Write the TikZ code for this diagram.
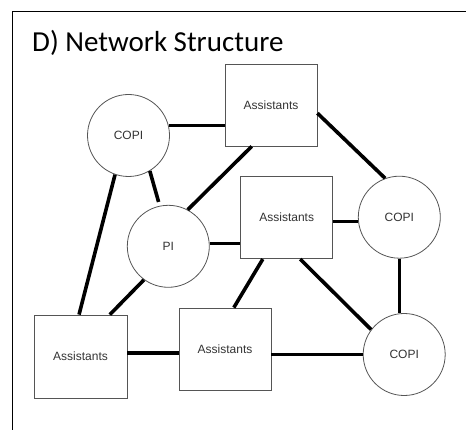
\documentclass[tikz,border=0pt]{standalone}
\usepackage{fontspec}
\setmainfont{Liberation Sans}
\newfontfamily\titlefont{Carlito}
\usetikzlibrary{calc}
\definecolor{nodegray}{HTML}{555555}
\definecolor{txtgray}{HTML}{333333}
\begin{document}
\begin{tikzpicture}[x=1pt,y=-1pt,
  box/.style={draw=nodegray, line width=0.8pt, rectangle, minimum width=92pt, minimum height=82pt, inner sep=0pt, font=\fontsize{12}{14}\selectfont, text=txtgray},
  rnd/.style={draw=nodegray, line width=0.8pt, circle, minimum size=82pt, inner sep=0pt, font=\fontsize{12}{14}\selectfont, text=txtgray},
  link/.style={line width=3.6pt, black}]
\useasboundingbox (0,0) rectangle (466,430);
\draw[line width=1.5pt] (12.5,430) -- (12.5,11.5) -- (466,11.5);
\node[anchor=base west, inner sep=0pt, font=\titlefont\fontsize{29}{34}\selectfont] (title) at (32,52) {D) Network Structure};

\node[rnd] (c1) at (128.5,135.5) {COPI};
\node[box] (a1) at (271,105) {Assistants};
\node[rnd] (pi) at (168.3,246.3) {PI};
\node[box] (m) at (286.7,217.7) {Assistants};
\node[rnd] (cr) at (399.3,217.2) {COPI};
\node[box, minimum width=93pt, minimum height=83pt] (b1) at (80.5,356.5) {Assistants};
\node[box] (b2) at (225,349) {Assistants};
\node[rnd] (cb) at (404.2,354.5) {COPI};

\draw[link] (c1.14) -- (c1.14 -| a1.west);
\draw[link] (a1.-10) -- (cr.110);
\draw[link] (a1.245) -- (pi.62);
\draw[link, shorten >=4pt] (c1.-59) -- (pi.102);
\draw[link] (c1.251) -- (b1.92);
\draw[link] (pi.4) -- (pi.4 -| m.west);
\draw[link] (cr.186 -| m.east) -- (cr.186);
\draw[link] (pi.234) -- (b1.55);
\draw[link] (m.240) -- (b2.78);
\draw[link] (m.-72) -- (cb.143);
\draw[link] (cr.south) -- (cr.south |- cb.north);
\draw[link] ([yshift=3.5pt]b1.east) -- ([yshift=3.5pt]b1.east -| b2.west);
\draw[link] (cb.west -| b2.east) -- (cb.west);
\end{tikzpicture}
\end{document}
